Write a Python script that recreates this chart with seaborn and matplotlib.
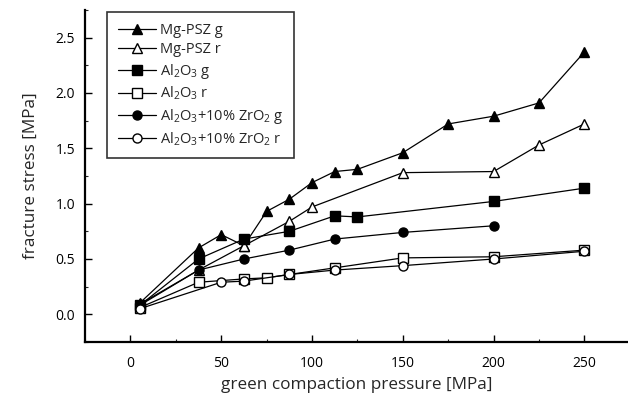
import matplotlib
matplotlib.use("Agg")
import matplotlib.pyplot as plt
import seaborn as sns
import pandas as pd
from matplotlib.ticker import MultipleLocator

# ---- data ----
mgpsz_g_x = [5, 37.5, 50, 62.5, 75, 87.5, 100, 112.5, 125, 150, 175, 200, 225, 250]
mgpsz_g_y = [0.10, 0.60, 0.72, 0.62, 0.93, 1.04, 1.19, 1.29, 1.31, 1.46, 1.72, 1.79, 1.91, 2.37]

mgpsz_r_x = [5, 37.5, 62.5, 87.5, 100, 150, 200, 225, 250]
mgpsz_r_y = [0.09, 0.40, 0.62, 0.84, 0.97, 1.28, 1.29, 1.53, 1.72]

al_g_x = [5, 37.5, 62.5, 87.5, 112.5, 125, 200, 250]
al_g_y = [0.08, 0.50, 0.68, 0.75, 0.89, 0.88, 1.02, 1.14]

al_r_x = [5, 37.5, 62.5, 75, 87.5, 112.5, 150, 200, 250]
al_r_y = [0.06, 0.29, 0.32, 0.33, 0.36, 0.42, 0.51, 0.52, 0.58]

alz_g_x = [5, 37.5, 62.5, 87.5, 112.5, 150, 200]
alz_g_y = [0.08, 0.40, 0.50, 0.58, 0.68, 0.74, 0.80]

alz_r_x = [5, 50, 62.5, 87.5, 112.5, 150, 200, 250]
alz_r_y = [0.05, 0.29, 0.30, 0.36, 0.40, 0.44, 0.50, 0.57]

labels = ["Mg-PSZ g", "Mg-PSZ r",
          "Al$_2$O$_3$ g", "Al$_2$O$_3$ r",
          "Al$_2$O$_3$+10% ZrO$_2$ g", "Al$_2$O$_3$+10% ZrO$_2$ r"]

x_ticks = [0, 50, 100, 150, 200, 250]
y_ticks = [0.0, 0.5, 1.0, 1.5, 2.0, 2.5]

series = [
    (mgpsz_g_x, mgpsz_g_y, "^", True),
    (mgpsz_r_x, mgpsz_r_y, "^", False),
    (al_g_x, al_g_y, "s", True),
    (al_r_x, al_r_y, "s", False),
    (alz_g_x, alz_g_y, "o", True),
    (alz_r_x, alz_r_y, "o", False),
]

sns.set_style("ticks")
plt.rcParams["font.family"] = ["Open Sans", "DejaVu Sans"]
plt.rcParams["mathtext.default"] = "regular"

fig = plt.figure(figsize=(6.28, 3.97), dpi=100)
ax = fig.add_axes([0.1354, 0.1385, 0.8646, 0.8365])

for (xs, ys, m, filled), lab in zip(series, labels):
    df = pd.DataFrame({"x": xs, "y": ys})
    sns.lineplot(data=df, x="x", y="y", ax=ax, color="black", linewidth=0.9,
                 marker=m, markersize=7 if m != "o" else 6.5,
                 markerfacecolor="black" if filled else "white",
                 markeredgecolor="black", markeredgewidth=1.0,
                 label=lab, estimator=None, sort=False)

ax.set_xlim(-25, 274)
ax.set_ylim(-0.25, 2.75)
ax.set_xticks(x_ticks)
ax.set_yticks(y_ticks)
ax.set_xticklabels([str(v) for v in x_ticks])
ax.set_yticklabels([f"{v:.1f}" for v in y_ticks])
ax.xaxis.set_minor_locator(MultipleLocator(25))
ax.yaxis.set_minor_locator(MultipleLocator(0.25))
ax.tick_params(which="major", direction="in", length=5, width=1.0, labelsize=10, colors="black")
ax.tick_params(axis="x", which="major", pad=10)
ax.tick_params(axis="y", which="major", pad=7)
ax.tick_params(which="minor", direction="in", length=2.5, width=0.8)
for s in ["top", "right"]:
    ax.spines[s].set_visible(False)
for s in ["left", "bottom"]:
    ax.spines[s].set_linewidth(1.6)
    ax.spines[s].set_color("black")

ax.set_xlabel("green compaction pressure [MPa]", fontsize=12.3, labelpad=4.5)
ax.set_ylabel("fracture stress [MPa]", fontsize=12.3, labelpad=12)

leg = ax.legend(loc="upper left", bbox_to_anchor=(0.041, 0.994), borderaxespad=0,
                frameon=True, fancybox=False, edgecolor="black", fontsize=10.5,
                handlelength=2.6, labelspacing=0.3, borderpad=0.75, handletextpad=0.25)
leg.get_frame().set_linewidth(1.2)

fig.savefig("out.png", dpi=100)
